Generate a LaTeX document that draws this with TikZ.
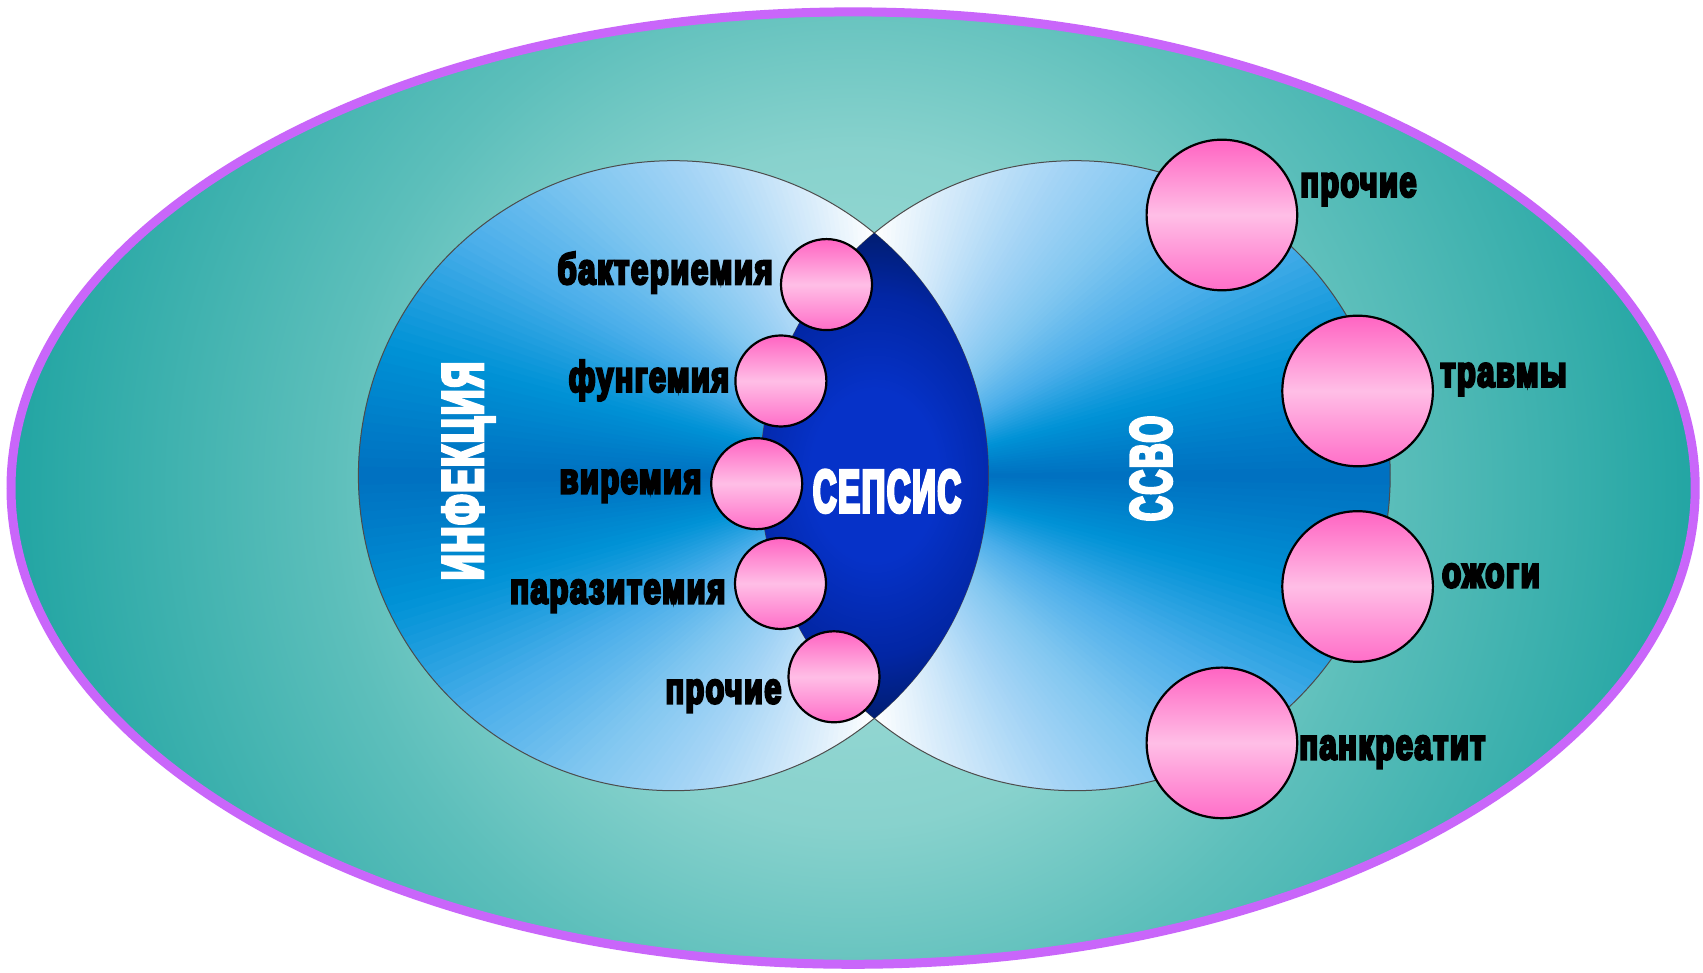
\documentclass[tikz,border=0pt]{standalone}
\usepackage{fontspec}
\usepackage{graphicx}
\newfontfamily\labfont[FakeStretch=0.76,FakeBold=6,LetterSpace=4]{Liberation Sans}
\definecolor{tl0}{HTML}{A4DDD9}
\definecolor{tl1}{HTML}{88D2CD}
\definecolor{tl2}{HTML}{5DBFBB}
\definecolor{tl3}{HTML}{22A5A3}
\definecolor{ln0}{HTML}{0632C8}
\definecolor{ln1}{HTML}{0226A4}
\definecolor{ln2}{HTML}{001A60}
\definecolor{purp}{HTML}{C966FA}
\definecolor{st0}{HTML}{0070C0}
\definecolor{st1}{HTML}{0092D6}
\definecolor{st2}{HTML}{4AAEEA}
\definecolor{st3}{HTML}{80C6F0}
\definecolor{st4}{HTML}{A8D6F6}
\definecolor{st5}{HTML}{D4EAFA}
\definecolor{st6}{HTML}{FFFFFF}
\definecolor{pkD}{HTML}{FF64C2}
\definecolor{pkM}{HTML}{FFBEE6}
\definecolor{pkB}{HTML}{FF6EC8}
\pgfdeclareradialshading{tealshade}{\pgfpointorigin}{color(0bp)=(tl0); color(10bp)=(tl1); color(15.5bp)=(tl2); color(25bp)=(tl3); color(50bp)=(tl3)}
\pgfdeclareradialshading{lensshade}{\pgfpointorigin}{color(0bp)=(ln0); color(8bp)=(ln0); color(17bp)=(ln1); color(25bp)=(ln2); color(50bp)=(ln2)}
\newcommand\lw[2]{\resizebox{#1}{\height}{#2}}
\tikzset{
  labtext/.style={inner sep=0pt, text=black, font=\labfont\bfseries\fontsize{21.7pt}{24pt}\selectfont},
  captext/.style={inner sep=0pt, text=white, font=\labfont\bfseries\fontsize{29pt}{32pt}\selectfont},
  pinksmall/.style={circle, draw=black, line width=1.1pt, minimum size=45.5pt, inner sep=0pt,
    top color=pkD, bottom color=pkB, middle color=pkM},
  pinkbig/.style={pinksmall, minimum size=75.3pt},
  rim/.style={draw=black!70, line width=0.5pt}
}
\begin{document}
\begin{tikzpicture}[x=0.5pt,y=0.5pt]
\path[use as bounding box, fill=white] (0,0) rectangle (1703,973);
% outer ellipse
\begin{scope}
  \clip (853.1,484.9) ellipse [x radius=842.1, y radius=476.2];
  \shade[shading=tealshade] (853.1,484.9) circle (842.1);
\end{scope}
\draw[draw=purp, line width=4.5pt] (853.1,484.9) ellipse [x radius=842.1, y radius=476.2];
% left circle: conic gradient centred on the lens, dark to the left
\begin{scope}
  \clip (673.4,497.3) circle (315);
  \foreach \a in {90,...,269}{
    \pgfmathsetmacro\m{\a+0.5}
    \pgfmathsetmacro\d{abs(\m-180)}
    \pgfmathsetmacro\s{min(\d/15,5.999)}
    \pgfmathtruncatemacro\k{floor(\s)}
    \pgfmathtruncatemacro\kk{\k+1}
    \pgfmathsetmacro\f{(\s-\k)*100}
    \colorlet{wc}{st\kk!\f!st\k}
    \fill[wc] (874.3,497.3) -- ++(\a:540) arc[start angle=\a, end angle=\a+1.4, radius=540] -- cycle;
  }
  \fill[white] (874.3,497.3) rectangle (1000,900);
  \fill[white] (874.3,497.3) rectangle (1000,100);
\end{scope}
% right circle: conic gradient centred on the lens, dark to the right
\begin{scope}
  \clip (1075.2,497.3) circle (315);
  \foreach \a in {-90,...,89}{
    \pgfmathsetmacro\m{\a+0.5}
    \pgfmathsetmacro\d{abs(\m)}
    \pgfmathsetmacro\s{min(\d/15,5.999)}
    \pgfmathtruncatemacro\k{floor(\s)}
    \pgfmathtruncatemacro\kk{\k+1}
    \pgfmathsetmacro\f{(\s-\k)*100}
    \colorlet{wc}{st\kk!\f!st\k}
    \fill[wc] (874.3,497.3) -- ++(\a:540) arc[start angle=\a, end angle=\a+1.4, radius=540] -- cycle;
  }
  \fill[white] (874.3,497.3) rectangle (740,900);
  \fill[white] (874.3,497.3) rectangle (740,100);
\end{scope}
\draw[rim] (673.4,497.3) circle (315);
\draw[rim] (1075.2,497.3) circle (315);
% lens (СЕПСИС)
\begin{scope}
  \clip (673.4,497.3) circle (315);
  \clip (1075.2,497.3) circle (315);
  \shade[shading=lensshade] (874.3,497.3) ellipse [x radius=200, y radius=265];
\end{scope}
% big texts
\node[captext, anchor=base, rotate=90] (inf) at (482.7,502) {\lw{109pt}{ИНФЕКЦИЯ}};
\node[captext, anchor=base, rotate=90] (ssvo) at (1171,504.5) {\lw{52.5pt}{ССВО}};
\node[captext, anchor=base, font=\labfont\bfseries\fontsize{30pt}{32pt}\selectfont] (sep) at (887,461) {\lw{74pt}{СЕПСИС}};
% left pink circles
\node[pinksmall] (b1) at (826.5,688.4) {};
\node[pinksmall] (b2) at (780.9,592) {};
\node[pinksmall] (b3) at (756.7,489.3) {};
\node[pinksmall] (b4) at (780.5,389.5) {};
\node[pinksmall] (b5) at (834,296.2) {};
% right pink circles
\node[pinkbig] (r1) at (1221.9,758) {};
\node[pinkbig] (r2) at (1357.6,582) {};
\node[pinkbig] (r3) at (1357.6,386.5) {};
\node[pinkbig] (r4) at (1221.9,230.1) {};
% left labels
\node[labtext, anchor=base east] (t1) at (773,689) {\lw{107.5pt}{бактериемия}};
\node[labtext, anchor=base east] (t2) at (729.3,581.3) {\lw{80pt}{фунгемия}};
\node[labtext, anchor=base east] (t3) at (701.7,479.7) {\lw{70.8pt}{виремия}};
\node[labtext, anchor=base east] (t4) at (725.7,369.7) {\lw{107.5pt}{паразитемия}};
\node[labtext, anchor=base east] (t5) at (781.7,269.7) {\lw{57.8pt}{прочие}};
% right labels
\node[labtext, anchor=base west] (u1) at (1300,776.3) {\lw{58pt}{прочие}};
\node[labtext, anchor=base west] (u2) at (1440,586.3) {\lw{63pt}{травмы}};
\node[labtext, anchor=base west] (u3) at (1441.7,385.7) {\lw{48.8pt}{ожоги}};
\node[labtext, anchor=base west] (u4) at (1299,213.7) {\lw{93pt}{панкреатит}};
\end{tikzpicture}
\end{document}
